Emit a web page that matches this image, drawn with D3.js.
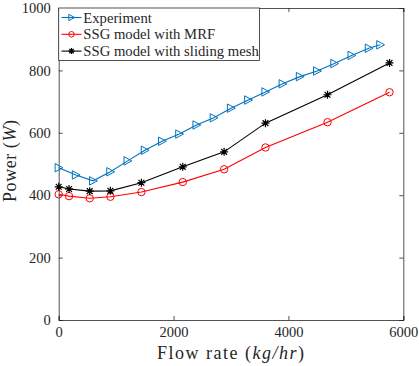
<!DOCTYPE html>
<html>
<head>
<meta charset="utf-8">
<script src="https://cdn.jsdelivr.net/npm/d3@7"></script>
<style>
  body { margin: 0; background: #fff; }
  svg text { font-family: "Liberation Serif", "DejaVu Serif", serif; fill: #262626; }
</style>
</head>
<body>
<div class="container"></div>
<script>
// data
var expFlow = [0, 300, 600, 900, 1200, 1500, 1800, 2100, 2400, 2700, 3000, 3300, 3600, 3900, 4200, 4500, 4800, 5100, 5400, 5600];
var expPower = [488, 465, 446, 475, 510, 544, 573, 596, 625, 648, 679, 705, 731, 757, 780, 798, 822, 848, 871, 882];
var modelFlow = [0, 180, 540, 900, 1440, 2160, 2880, 3600, 4680, 5760];
var mrfPower = [403, 397, 390, 395, 410, 442, 483, 553, 634, 730];
var slidingPower = [427, 420, 413, 414, 440, 491, 539, 631, 722, 824];
var xTicks = [0, 2000, 4000, 6000];
var yTicks = [0, 200, 400, 600, 800, 1000];
var seriesNames = ["Experiment", "SSG model with MRF", "SSG model with sliding mesh"];

var WIDTH = 419, HEIGHT = 366;
var LEFT = 58.7, RIGHT = 403.3, TOP = 8, BOTTOM = 320;
var AXIS = "#262626";

var svg = d3.select('.container').append('svg')
  .attr('width', WIDTH)
  .attr('height', HEIGHT);

var xScale = d3.scaleLinear().domain([0, 6000]).range([LEFT, RIGHT]);
var yScale = d3.scaleLinear().domain([0, 1000]).range([BOTTOM, TOP]);

var series = [
  { name: seriesNames[0], x: expFlow, y: expPower, color: "#0072BD", marker: "tri" },
  { name: seriesNames[1], x: modelFlow, y: mrfPower, color: "#FF0000", marker: "circle" },
  { name: seriesNames[2], x: modelFlow, y: slidingPower, color: "#000000", marker: "star" }
];

// k scales the marker (legend markers are drawn smaller)
var drawMarker = function(g, type, color, k) {
  if (type === "tri") {
    g.append('path').attr('d', 'M-3.6,-4.2L4.2,0L-3.6,4.2Z')
      .attr('transform', 'scale(' + k + ')')
      .attr('fill', 'none').attr('stroke', color).attr('stroke-width', 1 / k);
  } else if (type === "circle") {
    g.append('circle').attr('r', 3.7 * k)
      .attr('fill', 'none').attr('stroke', color).attr('stroke-width', 1);
  } else {
    var s = 4 * k, d = 2.9 * k;
    g.append('path').attr('d', 'M0,-' + s + 'V' + s + 'M-' + s + ',0H' + s +
        'M-' + d + ',-' + d + 'L' + d + ',' + d + 'M-' + d + ',' + d + 'L' + d + ',-' + d)
      .attr('fill', 'none').attr('stroke', color).attr('stroke-width', 1.2);
  }
};

// axes box
var xAxisB = d3.axisBottom(xScale).tickValues(xTicks).tickSize(-4).tickPadding(7).tickFormat(d3.format('d'));
var xAxisT = d3.axisTop(xScale).tickValues(xTicks).tickSize(-4).tickFormat('');
var yAxisL = d3.axisLeft(yScale).tickValues(yTicks).tickSize(-4).tickPadding(8).tickFormat(d3.format('d'));
var yAxisR = d3.axisRight(yScale).tickValues(yTicks).tickSize(-4).tickFormat('');

var styleAxis = function(g) {
  g.select('.domain').attr('stroke', AXIS).attr('stroke-width', 0.8);
  g.selectAll('.tick line').attr('stroke', AXIS).attr('stroke-width', 0.8);
  g.selectAll('.tick text').style('font-size', '14.5px').attr('fill', AXIS);
};

svg.append('g').attr('transform', 'translate(0,' + BOTTOM + ')').call(xAxisB).call(styleAxis);
svg.append('g').attr('transform', 'translate(0,' + TOP + ')').call(xAxisT).call(styleAxis);
svg.append('g').attr('transform', 'translate(' + LEFT + ',0)').call(yAxisL).call(styleAxis);
svg.append('g').attr('transform', 'translate(' + RIGHT + ',0)').call(yAxisR).call(styleAxis);

// lines and markers
var line = d3.line()
  .x(function(d) { return xScale(d[0]); })
  .y(function(d) { return yScale(d[1]); });

series.forEach(function(s) {
  var pts = s.x.map(function(v, i) { return [v, s.y[i]]; });
  svg.append('path').datum(pts)
    .attr('d', line)
    .attr('fill', 'none')
    .attr('stroke', s.color)
    .attr('stroke-width', 1.1);
  pts.forEach(function(p) {
    var g = svg.append('g').attr('transform', 'translate(' + xScale(p[0]) + ',' + yScale(p[1]) + ')');
    drawMarker(g, s.marker, s.color, 1);
  });
});

// axis titles
var xt = svg.append('text')
  .attr('x', 230.5).attr('y', 358.5)
  .attr('text-anchor', 'middle')
  .attr('textLength', 147).attr('lengthAdjust', 'spacing')
  .style('font-size', '18px');
xt.append('tspan').text('Flow rate (');
xt.append('tspan').style('font-style', 'italic').text('kg/hr');
xt.append('tspan').text(')');

var yt = svg.append('text')
  .attr('transform', 'translate(16,161) rotate(-90)')
  .attr('text-anchor', 'middle')
  .attr('textLength', 82).attr('lengthAdjust', 'spacing')
  .style('font-size', '18px');
yt.append('tspan').text('Power (');
yt.append('tspan').style('font-style', 'italic').text('W');
yt.append('tspan').text(')');

// legend
var legend = svg.append('g');
legend.append('rect')
  .attr('x', LEFT).attr('y', TOP)
  .attr('width', 259.5 - LEFT).attr('height', 52.5)
  .attr('fill', '#fff').attr('stroke', '#262626').attr('stroke-width', 0.8);

series.forEach(function(s, i) {
  var cy = 17.5 + i * 16.8;
  var g = legend.append('g');
  g.append('line').attr('x1', 61.5).attr('x2', 81.5).attr('y1', cy).attr('y2', cy)
    .attr('stroke', s.color).attr('stroke-width', 1.1);
  drawMarker(g.append('g').attr('transform', 'translate(71.5,' + cy + ')'), s.marker, s.color, 0.75);
  g.append('text').attr('x', 83.3).attr('y', cy + 5)
    .style('font-size', '14.7px')
    .attr('fill', '#000')
    .text(s.name);
});
</script>
</body>
</html>
